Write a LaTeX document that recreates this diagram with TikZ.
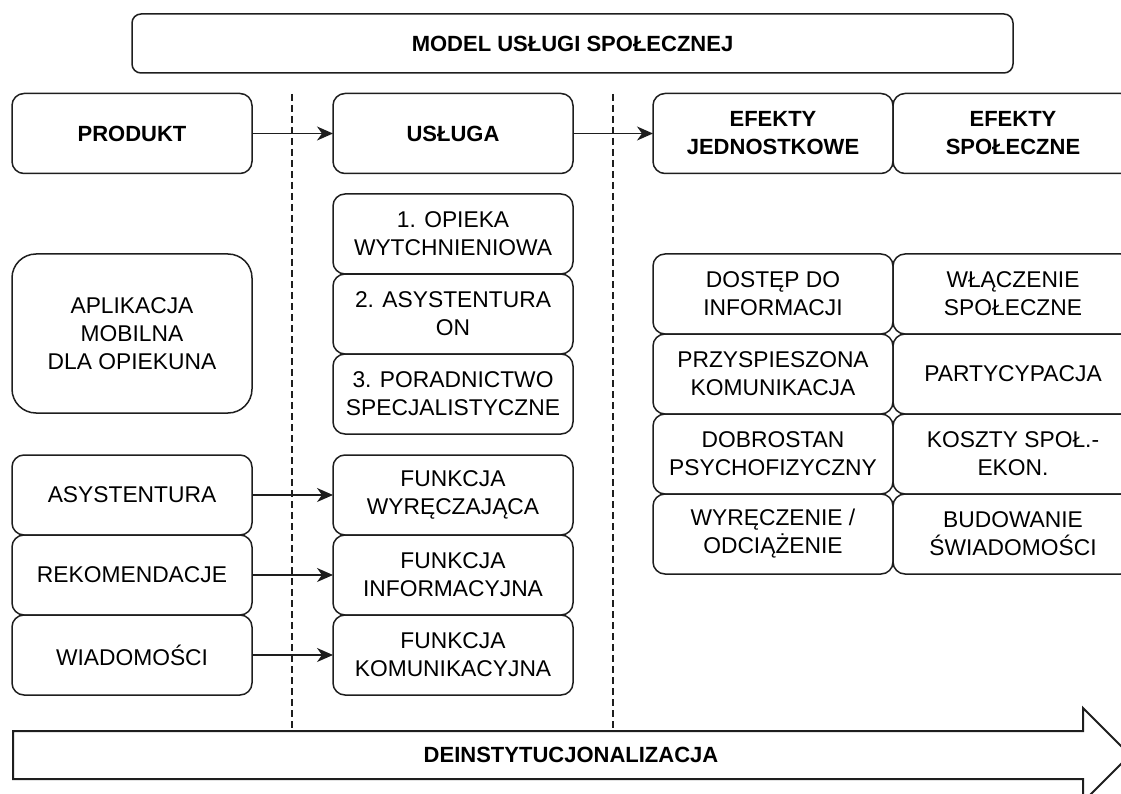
\documentclass[tikz,border=0pt]{standalone}
\usepackage{fontspec}
\setmainfont{Liberation Sans}
\usetikzlibrary{positioning, arrows.meta}
\definecolor{linegray}{RGB}{30, 30, 30}
\tikzset{
    cell/.style={draw=linegray, line width=1.5pt, rounded corners=12pt,
        minimum width=240pt, minimum height=80pt, outer sep=0pt,
        align=center, inner sep=2pt, font=\fontsize{22.8}{28}\selectfont},
    headcell/.style={cell, font=\fontsize{22}{28}\selectfont\bfseries},
    divider/.style={draw=linegray, line width=1.2pt, dash pattern=on 7pt off 4pt},
    flow/.style={draw=linegray, line width=1.5pt,
        -{Stealth[length=16pt, width=14pt, inset=5pt]}},
}

\begin{document}
\begin{tikzpicture}[x=1pt, y=-1pt]
    \useasboundingbox (0, 0) rectangle (1121, 794);
    \node[headcell, minimum width=881pt, minimum height=59pt,
        rounded corners=9pt] (model) at (572.5, 43.5) {MODEL USŁUGI SPOŁECZNEJ};

    \node[headcell] (produkt) at (132, 133.5) {PRODUKT};
    \node[headcell] (usluga) at (453, 133.5) {USŁUGA};
    \node[headcell] (efj) at (773, 133.5) {EFEKTY\\JEDNOSTKOWE};
    \node[headcell, right=0pt of efj] (efs) {EFEKTY\\SPOŁECZNE};

    \draw[divider] (292, 94) -- (292, 731);
    \draw[divider] (613, 94) -- (613, 731);

    \node[cell, minimum height=159pt, rounded corners=24pt] (aplik) at (132, 333.5)
        {APLIKACJA\\MOBILNA\\DLA OPIEKUNA};
    \node[cell] (opieka) at (453, 234) {1. OPIEKA\\WYTCHNIENIOWA};
    \node[cell, below=0pt of opieka] (asyston) {2. ASYSTENTURA\\ON};
    \node[cell, below=0pt of asyston] (porad) {3. PORADNICTWO\\SPECJALISTYCZNE};

    \node[cell] (asys) at (132, 495) {ASYSTENTURA};
    \node[cell, below=0pt of asys] (rekom) {REKOMENDACJE};
    \node[cell, below=0pt of rekom] (wiad) {WIADOMOŚCI};
    \node[cell] (fwyr) at (453, 495) {FUNKCJA\\WYRĘCZAJĄCA};
    \node[cell, below=0pt of fwyr] (finf) {FUNKCJA\\INFORMACYJNA};
    \node[cell, below=0pt of finf] (fkom) {FUNKCJA\\KOMUNIKACYJNA};

    \node[cell] (dostep) at (773, 294) {DOSTĘP DO\\INFORMACJI};
    \node[cell, below=0pt of dostep] (przysp) {PRZYSPIESZONA\\KOMUNIKACJA};
    \node[cell, below=0pt of przysp] (dobro) {DOBROSTAN\\PSYCHOFIZYCZNY};
    \node[cell, below=0pt of dobro] (wyrecz) {WYRĘCZENIE /\\ODCIĄŻENIE};
    \node[cell, right=0pt of dostep] (wlacz) {WŁĄCZENIE\\SPOŁECZNE};
    \node[cell, right=0pt of przysp] (partyc) {PARTYCYPACJA};
    \node[cell, right=0pt of dobro] (koszty) {KOSZTY SPOŁ.-\\EKON.};
    \node[cell, right=0pt of wyrecz] (budow) {BUDOWANIE\\ŚWIADOMOŚCI};

    \draw[flow] (produkt) -- (usluga);
    \draw[flow] (usluga) -- (efj);
    \draw[flow] (asys) -- (fwyr);
    \draw[flow] (rekom) -- (finf);
    \draw[flow] (wiad) -- (fkom);

    % big arrow at the bottom
    \draw[linegray, line width=2pt] (13, 731) -- (1083, 731) -- (1083, 708)
        -- (1130, 755) -- (1083, 802) -- (1083, 779) -- (13, 779) -- cycle;
    \node[font=\fontsize{22}{28}\selectfont\bfseries] (deinst) at (571, 755)
        {DEINSTYTUCJONALIZACJA};
\end{tikzpicture}
\end{document}
